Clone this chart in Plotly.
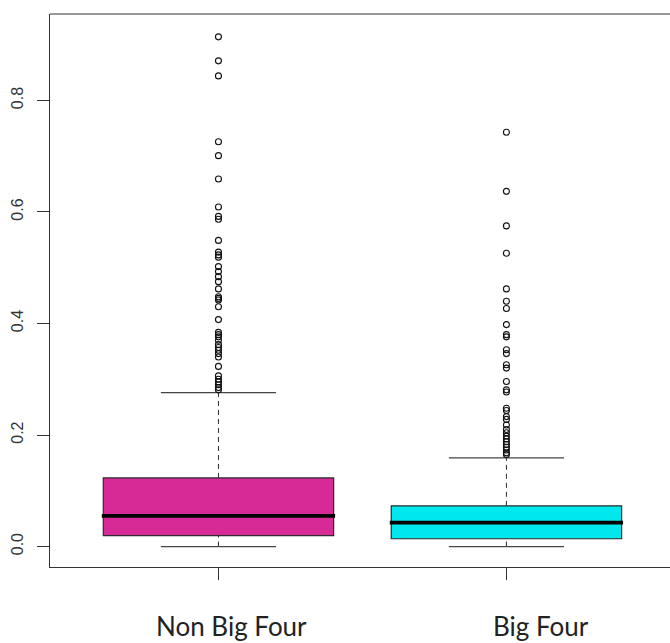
import plotly.graph_objects as go

# ---- data ----
groups = ["Non Big Four", "Big Four"]
positions = [1, 2]
q1 = [0.0196, 0.014]
median = [0.055, 0.043]
q3 = [0.123, 0.073]
lower_whisker = [0.0, 0.0]
upper_whisker = [0.276, 0.159]
outliers_non_big4 = [0.914, 0.871, 0.844, 0.726, 0.701, 0.659, 0.609, 0.592, 0.587,
                     0.549, 0.528, 0.523, 0.519, 0.502, 0.493, 0.484, 0.475, 0.462,
                     0.448, 0.445, 0.442, 0.430, 0.407, 0.384, 0.380, 0.376, 0.370,
                     0.362, 0.357, 0.352, 0.346, 0.340, 0.323, 0.306, 0.300, 0.295,
                     0.290, 0.285, 0.281]
outliers_big4 = [0.743, 0.637, 0.575, 0.526, 0.462, 0.440, 0.427, 0.398, 0.380, 0.376,
                 0.353, 0.346, 0.326, 0.320, 0.296, 0.281, 0.277, 0.248, 0.244, 0.233,
                 0.228, 0.218, 0.210, 0.204, 0.198, 0.193, 0.188, 0.183, 0.178, 0.173,
                 0.168, 0.165]
outliers = [outliers_non_big4, outliers_big4]
fill_colors = ["#D62A96", "#00E8EE"]
y_ticks = [0.0, 0.2, 0.4, 0.6, 0.8]
label_xshift = [13, 35]  # label offsets seen in the reference (px)

BOX_HALF = 0.4
CAP_HALF = 0.2
EDGE = "#2b2b2b"

fig = go.Figure()

for i in range(len(groups)):
    c = positions[i]
    # box body (no plotly whiskers)
    fig.add_trace(go.Box(
        x=[c], q1=[q1[i]], median=[median[i]], q3=[q3[i]],
        lowerfence=[q1[i]], upperfence=[q3[i]],
        width=2 * BOX_HALF, fillcolor=fill_colors[i],
        line=dict(color=EDGE, width=1.2), whiskerwidth=0,
        boxpoints=False, hoverinfo="skip", showlegend=False))
    # dashed whiskers
    for a, b in [(q3[i], upper_whisker[i]), (lower_whisker[i], q1[i])]:
        fig.add_trace(go.Scatter(x=[c, c], y=[a, b], mode="lines",
                                 line=dict(color=EDGE, width=1, dash="5px,4px"),
                                 showlegend=False, hoverinfo="skip"))
    # staples
    for v in [upper_whisker[i], lower_whisker[i]]:
        fig.add_trace(go.Scatter(x=[c - CAP_HALF, c + CAP_HALF], y=[v, v], mode="lines",
                                 line=dict(color="#444444", width=1.2),
                                 showlegend=False, hoverinfo="skip"))
    # median
    fig.add_trace(go.Scatter(x=[c - BOX_HALF - 0.005, c + BOX_HALF + 0.005],
                             y=[median[i], median[i]], mode="lines",
                             line=dict(color="black", width=3.8),
                             showlegend=False, hoverinfo="skip"))
    # outliers
    fig.add_trace(go.Scatter(x=[c] * len(outliers[i]), y=outliers[i], mode="markers",
                             marker=dict(symbol="circle-open", size=6, color="#111111",
                                         line=dict(width=1.1)),
                             showlegend=False, hoverinfo="skip"))
    # category label
    fig.add_annotation(x=c, xref="x", y=0, yref="paper", text=groups[i],
                       showarrow=False, xanchor="center", yanchor="top",
                       xshift=label_xshift[i], yshift=-42, borderpad=0,
                       font=dict(family="Lato", size=26, color="#222222"))

fig.update_layout(
    width=670, height=643,
    margin=dict(l=50, r=0, t=14, b=76),
    plot_bgcolor="white", paper_bgcolor="white",
    showlegend=False,
)
fig.update_xaxes(
    range=[0.415, 2.568], tickmode="array", tickvals=positions, showticklabels=False,
    showgrid=False, zeroline=False, showline=True, linecolor="#333333", linewidth=1.2,
    mirror=False, ticks="outside", ticklen=12, tickcolor="#333333", automargin=False,
)
fig.update_yaxes(
    range=[-0.0367, 0.955], tickmode="array", tickvals=y_ticks,
    ticktext=[f"{v:.1f}" for v in y_ticks],
    showgrid=False, zeroline=False, showline=True, linecolor="#333333", linewidth=1.2,
    ticks="outside", ticklen=12, tickcolor="#333333", tickangle=-90,
    tickfont=dict(family="Liberation Sans", size=16, color="#333333"),
    ticklabelstandoff=8, automargin=False,
)
# top border line
fig.add_shape(type="line", xref="paper", yref="paper", x0=0, x1=1, y0=1, y1=1,
              line=dict(color="#333333", width=1.2))

fig.write_html(
    "out.html",
    config={"displayModeBar": False},
    post_script="document.body.style.margin='0';document.body.style.overflow='hidden';",
)
